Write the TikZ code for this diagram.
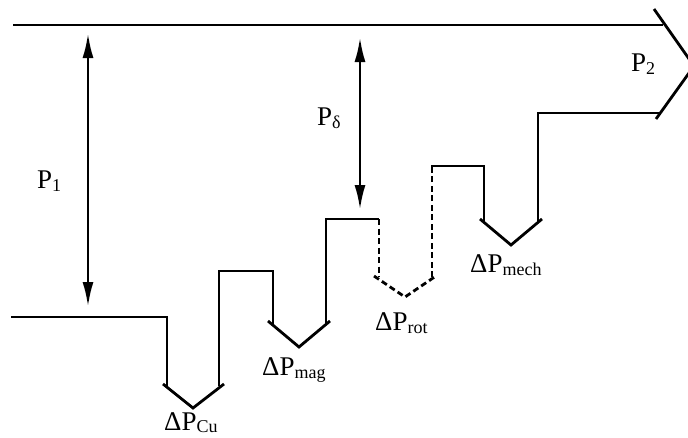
\documentclass[tikz,border=0pt]{standalone}
\usepackage{fontspec}
\setmainfont{Liberation Serif}
\usetikzlibrary{arrows.meta}
\newcommand\sbs[1]{\raisebox{-3pt}{\fontsize{18}{18}\selectfont #1}}
\tikzset{
  flow/.style={line width=2.8pt, line join=miter},
  lossflow/.style={flow, dash pattern=on 6pt off 3.5pt},
  powarrow/.style={line width=2.8pt, {Latex[length=25pt,width=11pt]}-{Latex[length=25pt,width=11pt]}},
  lbl/.style={font=\fontsize{27}{27}\selectfont, inner sep=0pt, anchor=base west}
}
\begin{document}
\begin{tikzpicture}[x=1pt,y=-1pt]
\useasboundingbox (0,0) rectangle (688,437);
\clip (0,0) rectangle (688,437);
% coordinates
\coordinate (topL) at (13,25);
\coordinate (topR) at (663,25);
\coordinate (inL) at (11,317);
\coordinate (outL) at (660,113);
\coordinate (tip) at (694,66);
% top flow line and arrowhead
\draw[flow] (topL) -- (topR);
\draw[flow] (654,9) -- (tip) -- (656,119);
% stepped flow
\draw[flow] (inL) -- (167,317) -- (167,387);
\draw[flow] (163,384) -- (193,408) -- (224,384);
\draw[flow] (219,386) -- (219,271) -- (273,271) -- (273,325);
\draw[flow] (268,321) -- (299,347) -- (330,321);
\draw[flow] (326,324) -- (326,219) -- (379,219);
\draw[lossflow] (379,219) -- (379,277);
\draw[lossflow] (374,276) -- (405,297) -- (436,276);
\draw[lossflow] (432,277) -- (432,166);
\draw[flow] (431,166) -- (484,166) -- (484,222);
\draw[flow] (480,219) -- (511,245) -- (542,219);
\draw[flow] (538,222) -- (538,113) -- (outL);
% power arrows
\coordinate (a1t) at (88,33);
\coordinate (a1b) at (88,307);
\coordinate (a2t) at (360,37);
\coordinate (a2b) at (360,210);
\draw[powarrow] (a1t) -- (a1b);
\draw[powarrow] (a2t) -- (a2b);
% labels
\node[lbl] (p1) at (37,188) {P\sbs{1}};
\node[lbl] (pd) at (317,125) {P\sbs{δ}};
\node[lbl] (p2) at (631,71) {P\sbs{2}};
\node[lbl] (lcu) at (164,430) {ΔP\raisebox{-2pt}{\fontsize{18}{18}\selectfont Cu}};
\node[lbl] (lmag) at (262,375) {ΔP\sbs{mag}};
\node[lbl] (lrot) at (375,330) {ΔP\sbs{rot}};
\node[lbl] (lmech) at (470,272) {ΔP\sbs{mech}};
\end{tikzpicture}
\end{document}
